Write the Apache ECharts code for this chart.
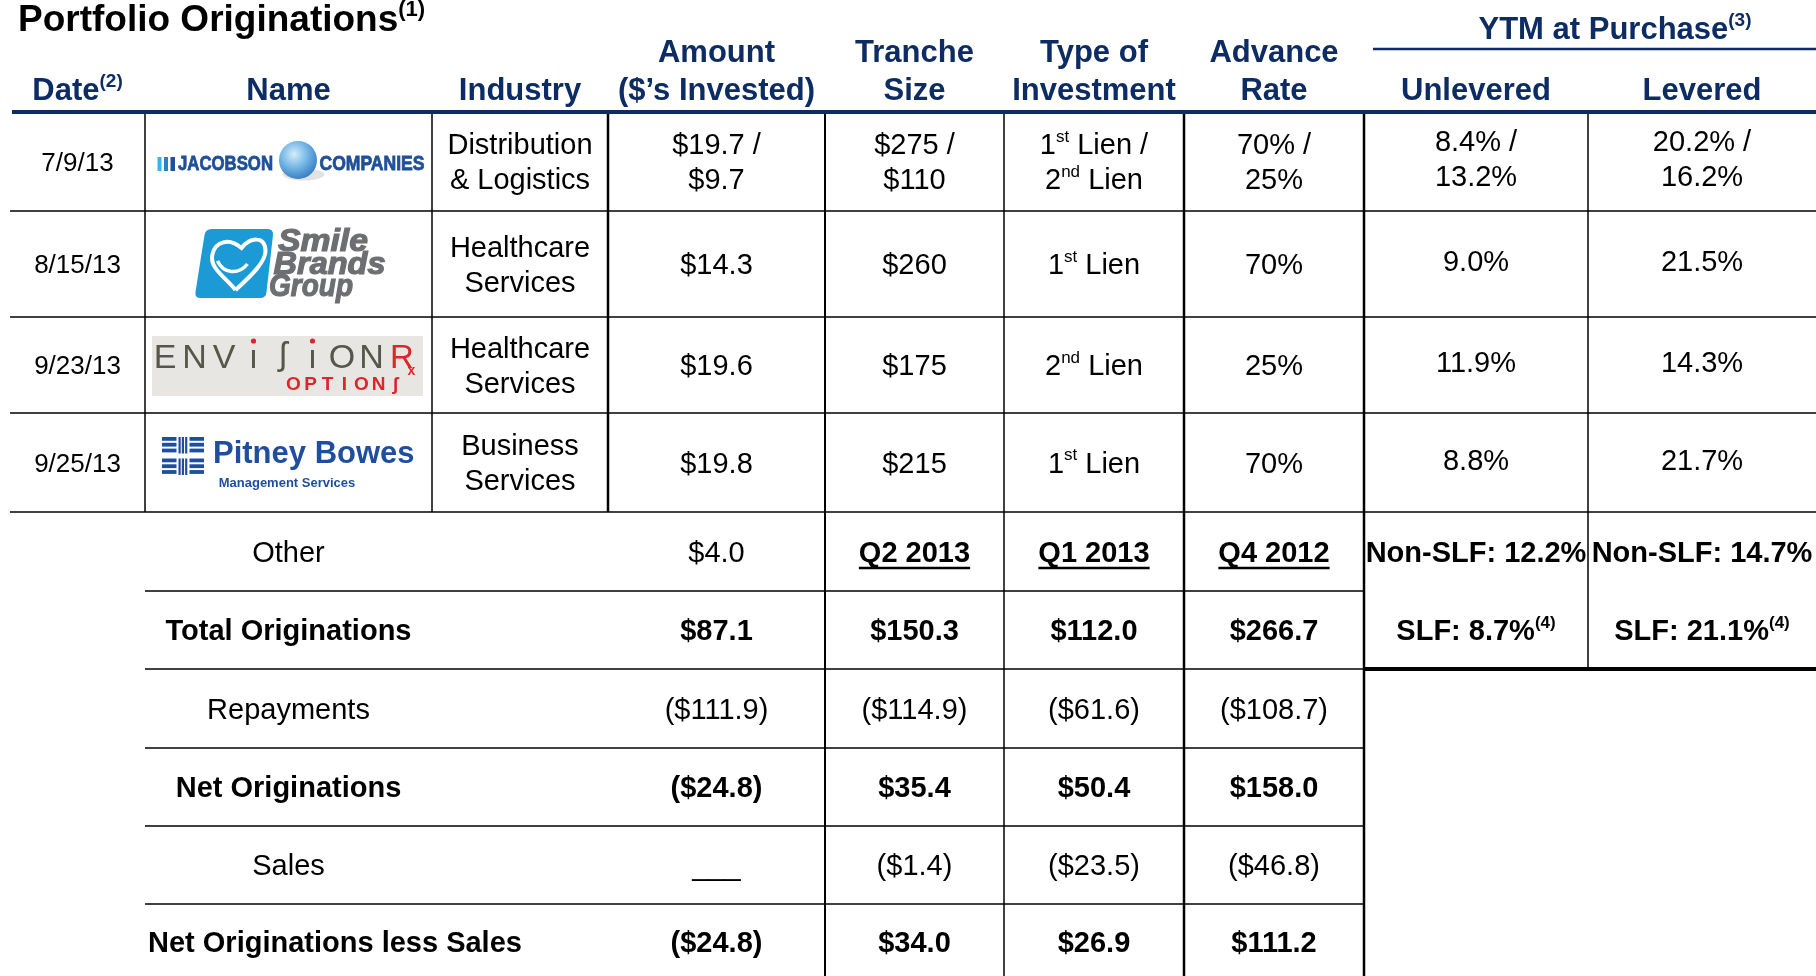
<!DOCTYPE html>
<html>
<head>
<meta charset="utf-8">
<title>Portfolio Originations</title>
<script src="https://cdn.jsdelivr.net/npm/echarts@6/dist/echarts.min.js"></script>
<style>
  html, body { margin: 0; padding: 0; background: #fff; }
  #chart { width: 1816px; height: 976px; }
</style>
</head>
<body>
<div id="chart"></div>
<script>
// ---- table data ----
const dates = ['7/9/13', '8/15/13', '9/23/13', '9/25/13'];
const companies = ['Jacobson Companies', 'Smile Brands Group', 'EnvisionRx Options', 'Pitney Bowes Management Services'];
const industries = [['Distribution', '& Logistics'], ['Healthcare', 'Services'], ['Healthcare', 'Services'], ['Business', 'Services']];
const amountsInvested = [['$19.7 /', '$9.7'], ['$14.3'], ['$19.6'], ['$19.8']];
const trancheSizes = [['$275 /', '$110'], ['$260'], ['$175'], ['$215']];
const investmentTypes = [['1st Lien /', '2nd Lien'], ['1st Lien'], ['2nd Lien'], ['1st Lien']];
const advanceRates = [['70% /', '25%'], ['70%'], ['25%'], ['70%']];
const ytmUnlevered = [['8.4% /', '13.2%'], ['9.0%'], ['11.9%'], ['8.8%']];
const ytmLevered = [['20.2% /', '16.2%'], ['21.5%'], ['14.3%'], ['21.7%']];

const summaryLabels = ['Other', 'Total Originations', 'Repayments', 'Net Originations', 'Sales', 'Net Originations less Sales'];
const summaryBold = [false, true, false, true, false, true];
const currentQuarter = ['$4.0', '$87.1', '($111.9)', '($24.8)', '___', '($24.8)'];
const priorQuarters = ['Q2 2013', 'Q1 2013', 'Q4 2012'];
const q2013Q2 = ['$150.3', '($114.9)', '$35.4', '($1.4)', '$34.0'];
const q2013Q1 = ['$112.0', '($61.6)', '$50.4', '($23.5)', '$26.9'];
const q2012Q4 = ['$266.7', '($108.7)', '$158.0', '($46.8)', '$111.2'];
const ytmNonSlf = ['Non-SLF: 12.2%', 'Non-SLF: 14.7%'];
const ytmSlf = ['SLF: 8.7%(4)', 'SLF: 21.1%(4)'];

const title = 'Portfolio Originations(1)';
const headers = [['Date(2)'], ['Name'], ['Industry'], ['Amount', '($’s Invested)'], ['Tranche', 'Size'],
  ['Type of', 'Investment'], ['Advance', 'Rate'], ['Unlevered'], ['Levered']];
const groupHeader = 'YTM at Purchase(3)';

// ---- layout ----
const W = 1816, H = 976;
const COLS = [10, 145, 432, 608, 825, 1004, 1184, 1364, 1588, 1816];
const ROWS = [112, 211, 317, 413, 512, 591, 669, 748, 826, 904, 980];
const TEXT_DY = 2;
const NAVY = '#0c2c63';
const FONT = "'Liberation Sans', Arial, Helvetica, sans-serif";

const colMid = (c) => (COLS[c] + COLS[c + 1]) / 2;
const rowMid = (r) => (ROWS[r] + ROWS[r + 1]) / 2 + TEXT_DY;

// grid rules: [x0, x1, y0, y1, width, color]
const RULES = [
  [12, W, 112, 112, 4, NAVY],
  [1373, W, 49, 49, 2.5, NAVY],
  [10, W, 211, 211, 1.5, '#000'],
  [10, W, 317, 317, 1.5, '#000'],
  [10, W, 413, 413, 1.5, '#000'],
  [10, W, 512, 512, 1.5, '#000'],
  [145, 1364, 591, 591, 1.5, '#000'],
  [145, 1364, 669, 669, 1.5, '#000'],
  [1364, W, 669, 669, 4, '#000'],
  [145, 1364, 748, 748, 1.5, '#000'],
  [145, 1364, 826, 826, 1.5, '#000'],
  [145, 1364, 904, 904, 1.5, '#000'],
  [145, 145, 114, 512, 1.5, '#000'],
  [432, 432, 114, 512, 1.5, '#000'],
  [608, 608, 114, 512, 2.5, '#000'],
  [825, 825, 114, H, 2, '#000'],
  [1004, 1004, 114, H, 1.5, '#000'],
  [1184, 1184, 114, H, 2.5, '#000'],
  [1364, 1364, 114, H, 2.5, '#000'],
  [1588, 1588, 114, 669, 1.5, '#000']
];

// ---- cells ----
const cells = [];
function put(x, y, lines, o) {
  cells.push(Object.assign({ x: x, y: y, lines: lines, size: 29, bold: false, color: '#000' }, o || {}));
}

put(18, 21, [title], { size: 37, bold: true, align: 'left', lineHeight: 44 });
put(1615, 30, [groupHeader], { size: 31, bold: true, color: NAVY, lineHeight: 38 });
headers.forEach((h, c) => {
  put(colMid(c), h.length === 2 ? 72 : 91, h, { size: 31, bold: true, color: NAVY, lineHeight: 38 });
});

const bodyCols = [industries, amountsInvested, trancheSizes, investmentTypes, advanceRates, ytmUnlevered, ytmLevered];
dates.forEach((d, i) => {
  put(colMid(0), rowMid(i), [d], { size: 26 });
  bodyCols.forEach((arr, k) => put(colMid(k + 2), rowMid(i) + (k >= 5 ? -3 : 0), arr[i]));
});

summaryLabels.forEach((lab, j) => {
  const last = j === summaryLabels.length - 1;
  put(last ? 148 : colMid(1), rowMid(4 + j), [lab], { bold: summaryBold[j], align: last ? 'left' : 'center' });
  put(colMid(3), rowMid(4 + j), [currentQuarter[j]], { bold: summaryBold[j] });
});
priorQuarters.forEach((q, k) => put(colMid(4 + k), rowMid(4), [q], { bold: true, underline: true }));
[q2013Q2, q2013Q1, q2012Q4].forEach((arr, k) => {
  arr.forEach((v, j) => put(colMid(4 + k), rowMid(5 + j), [v], { bold: summaryBold[j + 1] }));
});
ytmNonSlf.forEach((v, k) => put(colMid(7 + k), rowMid(4), [v], { bold: true }));
ytmSlf.forEach((v, k) => put(colMid(7 + k), rowMid(5), [v], { bold: true }));

// ---- helpers ----
const measureCtx = document.createElement('canvas').getContext('2d');
function textWidth(s, font) {
  measureCtx.font = font;
  return measureCtx.measureText(s).width;
}
// ordinals (1st, 2nd) and footnote marks (1) become superscripts
function richify(s) {
  return s.replace(/(\d)(st|nd)\b/g, '$1{ord|$2}').replace(/\((\d)\)/g, '{ref|($1)}');
}

function renderCell(params, api) {
  const c = cells[params.dataIndex];
  const p = api.coord([api.value(0), api.value(1)]);
  const weight = c.bold ? 'bold' : 'normal';
  const lh = c.lineHeight || 35;
  const supSize = Math.round(c.size * 0.6);
  const sup = (h) => ({ fontFamily: FONT, fontSize: supSize, fontWeight: weight, fill: c.color, lineHeight: h, verticalAlign: 'top' });
  const el = {
    type: 'text',
    style: {
      text: c.lines.map(richify).join('\n'),
      x: p[0], y: p[1],
      align: c.align || 'center',
      verticalAlign: 'middle',
      fontFamily: FONT, fontSize: c.size, fontWeight: weight,
      fill: c.color,
      lineHeight: lh,
      rich: {
        ord: sup(Math.round(lh - c.size * 0.28)),
        ref: sup(Math.round(supSize * 1.2))
      }
    }
  };
  if (!c.underline) return el;
  const w = textWidth(c.lines[0], weight + ' ' + c.size + 'px ' + FONT);
  return {
    type: 'group',
    children: [el, { type: 'rect', shape: { x: p[0] - w / 2, y: p[1] + c.size * 0.46, width: w, height: 2.5 }, style: { fill: c.color } }]
  };
}

function renderRule(params, api) {
  const r = RULES[params.dataIndex];
  const a = api.coord([api.value(0), api.value(1)]);
  const b = api.coord([api.value(2), api.value(3)]);
  const horiz = Math.abs(a[1] - b[1]) < 0.5;
  return {
    type: 'rect',
    shape: horiz
      ? { x: a[0], y: a[1] - r[4] / 2, width: b[0] - a[0], height: r[4] }
      : { x: a[0] - r[4] / 2, y: a[1], width: r[4], height: b[1] - a[1] },
    style: { fill: r[5] }
  };
}

// ---- logos (drawn around the Name cell centre) ----
function txt(s, x, y, font, fill, align, extra) {
  return {
    type: 'text',
    style: Object.assign({ text: s, x: x, y: y, font: font, fill: fill, align: align || 'left', verticalAlign: 'middle' }, extra || {})
  };
}
// text scaled horizontally to a given width
function fitTxt(s, x, y, font, fill, width, extra) {
  const k = width / textWidth(s, font);
  return {
    type: 'text', x: x, y: y, scaleX: k,
    style: Object.assign({ text: s, x: 0, y: 0, font: font, fill: fill, align: 'left', verticalAlign: 'middle' }, extra || {})
  };
}
function box(x, y, w, h, fill) {
  return { type: 'rect', shape: { x: x, y: y, width: w, height: h }, style: { fill: fill } };
}

function jacobsonLogo() {
  const blue = '#1f4f96';
  const heavy = { stroke: blue, lineWidth: 0.8 };
  return [
    box(-131, -4.5, 4, 14, '#35b5ea'),
    box(-124.5, -4.5, 4, 14, '#2a7fcb'),
    box(-118, -4.5, 4.5, 14, '#1d4e9b'),
    fitTxt('JACOBSON', -110.5, 2.5, 'bold 20px ' + FONT, blue, 95, heavy),
    { type: 'ellipse', shape: { cx: 15, cy: 13, rx: 21, ry: 6 }, style: { fill: 'rgba(60,60,80,0.15)' } },
    {
      type: 'circle', shape: { cx: 9.5, cy: -1.5, r: 19 },
      style: {
        fill: new echarts.graphic.RadialGradient(0.4, 0.35, 0.75, [
          { offset: 0, color: '#d4ecfa' }, { offset: 0.5, color: '#6fb3e4' }, { offset: 1, color: '#2a6fb8' }
        ])
      }
    },
    fitTxt('COMPANIES', 31, 2.5, 'bold 20px ' + FONT, blue, 105, heavy)
  ];
}

function smileLogo() {
  const grey = '#6d6e71';
  const heavy = { stroke: grey, lineWidth: 1.2 };
  const font = 'italic bold 31px ' + FONT;
  return [
    {
      type: 'path',
      shape: { pathData: 'M -77 -35 L -21 -35 Q -15 -35 -15.5 -29 L -22 28 Q -22.5 34 -28.5 34 L -88 34 Q -94 34 -93 28 L -84 -29 Q -83 -35 -77 -35 Z' },
      style: { fill: '#1b9ad6' }
    },
    {
      type: 'path',
      shape: { pathData: 'M -53 26 C -62 14 -80 4 -76 -10 C -73 -22 -60 -27 -47 -16 C -38 -27 -24 -28 -23 -14 C -22 -2 -40 14 -53 26' },
      style: { fill: 'none', stroke: '#fff', lineWidth: 4 }
    },
    {
      type: 'path',
      shape: { pathData: 'M -71 -3 C -65 10 -50 11 -41 0' },
      style: { fill: 'none', stroke: '#fff', lineWidth: 3.5 }
    },
    fitTxt('Smile', -10.5, -22, font, grey, 90, heavy),
    fitTxt('Brands', -15, 1, font, grey, 112, heavy),
    fitTxt('Group', -19.5, 23, font, grey, 84, heavy)
  ];
}

function envisionLogo() {
  const red = '#dc262c';
  const ink = '#57564c';
  const out = [box(-136.5, -29, 271, 60, '#e8e6e3')];
  'ENVıʃıON'.split('').forEach((ch, i) => {
    const x = -123.5 + i * 29.5;
    out.push(txt(ch, x, ch === 'ʃ' ? -9 : -6, '34px ' + FONT, ink, 'center'));
    if (ch === 'ı') {
      out.push({ type: 'circle', shape: { cx: x, cy: -24, r: 2.6 }, style: { fill: red } });
    }
  });
  out.push(txt('R', 113.5, -6, '33px ' + FONT, red, 'center'));
  out.push(txt('x', 123, 6, 'bold 14px ' + FONT, red, 'center'));
  'OPTIONʃ'.split('').forEach((ch, i) => {
    out.push(txt(ch, 5 + i * 17, 20, 'bold 19px ' + FONT, red, 'center'));
  });
  return out;
}

function pitneyLogo() {
  const blue = '#1f4e9e';
  const out = [];
  [[-25.5, -9], [-4, 12.5]].forEach((band) => {
    for (let s = 0; s < 3; s++) {
      const y = band[0] + s * 5.8;
      out.push(box(-126.5, y, 14.5, 3.8, blue));
      out.push(box(-99, y, 14.5, 3.8, blue));
    }
    for (let s = 0; s < 3; s++) {
      out.push(box(-110 + s * 3.3, band[0], 2.2, band[1] - band[0], blue));
    }
  });
  out.push(txt('Pitney Bowes', -75.5, -8, 'bold 31px ' + FONT, blue));
  out.push(txt('Management Services', -1.5, 20.5, 'bold 13px ' + FONT, blue, 'center'));
  return out;
}

const logoDrawers = [jacobsonLogo, smileLogo, envisionLogo, pitneyLogo];

function renderLogo(params, api) {
  const p = api.coord([api.value(0), api.value(1)]);
  return { type: 'group', x: p[0], y: p[1], children: logoDrawers[params.dataIndex]() };
}

// ---- chart ----
const chart = echarts.init(document.getElementById('chart'));
chart.setOption({
  animation: false,
  backgroundColor: '#fff',
  grid: { left: 0, right: 0, top: 0, bottom: 0 },
  xAxis: { type: 'value', min: 0, max: W, show: false },
  yAxis: { type: 'value', min: 0, max: H, inverse: true, show: false },
  series: [
    {
      name: 'rules', type: 'custom', clip: false, silent: true,
      renderItem: renderRule,
      encode: { x: [0, 2], y: [1, 3] },
      data: RULES.map((r) => [r[0], r[2], r[1], r[3]])
    },
    {
      name: 'logos', type: 'custom', clip: false, silent: true,
      renderItem: renderLogo,
      data: companies.map((c, i) => ({ name: c, value: [colMid(1), rowMid(i) - TEXT_DY] }))
    },
    {
      name: 'cells', type: 'custom', clip: false, silent: true,
      renderItem: renderCell,
      data: cells.map((c) => [c.x, c.y])
    }
  ]
});
</script>
</body>
</html>
